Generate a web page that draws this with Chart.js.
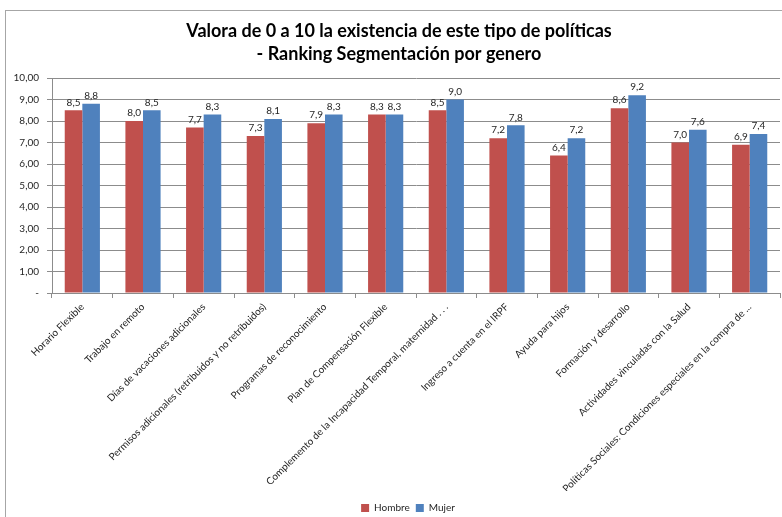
<!DOCTYPE html>
<html>
<head>
<meta charset="utf-8">
<title>Ranking Segmentación por genero</title>
<script src="https://cdn.jsdelivr.net/npm/chart.js@4.4.1/dist/chart.umd.min.js"></script>
<style>
  html, body { margin: 0; padding: 0; background: #fff; }
  canvas { display: block; }
</style>
</head>
<body>
<canvas id="rankingChart" width="782" height="517"></canvas>
<script>
const categories = [
  'Horario Flexible',
  'Trabajo en remoto',
  'Días de vacaciones adicionales',
  'Permisos adicionales (retribuidos y no retribuidos)',
  'Programas de reconocimiento',
  'Plan de Compensación Flexible',
  'Complemento de la Incapacidad Temporal, maternidad . . .',
  'Ingreso a cuenta en el IRPF',
  'Ayuda para hijos',
  'Formación y desarrollo',
  'Actividades vinculadas con la Salud',
  'Políticas Sociales: Condiciones especiales en la compra de ...'
];
const hombre = [8.5, 8.0, 7.7, 7.3, 7.9, 8.3, 8.5, 7.2, 6.4, 8.6, 7.0, 6.9];
const mujer = [8.8, 8.5, 8.3, 8.1, 8.3, 8.3, 9.0, 7.8, 7.2, 9.2, 7.6, 7.4];
const yTicks = [0, 1, 2, 3, 4, 5, 6, 7, 8, 9, 10];

const FONT = "Lato, 'Open Sans', sans-serif";
const fmt = (v, d) => v.toFixed(d).replace('.', ',');

// outer frame like a spreadsheet chart object
const framePlugin = {
  id: 'frame',
  beforeDraw(chart) {
    const ctx = chart.ctx;
    ctx.save();
    ctx.strokeStyle = '#a6a6a6';
    ctx.lineWidth = 1;
    ctx.strokeRect(5.5, 10.5, 820, 560);
    ctx.restore();
  },
  afterLayout(chart) {
    // the frame runs past the right edge, so title and legend sit right of centre
    const t = chart.titleBlock;
    if (t) { t.left += 9; t.right += 9; }
    const lg = chart.legend;
    if (lg) { lg.left += 18; lg.right += 18; lg.top += 6; lg.bottom += 6; }
  }
};

// value labels above each bar
const valueLabels = {
  id: 'valueLabels',
  afterDatasetsDraw(chart) {
    const ctx = chart.ctx;
    ctx.save();
    ctx.font = '10px ' + FONT;
    ctx.fillStyle = '#262626';
    ctx.textAlign = 'center';
    ctx.textBaseline = 'bottom';
    chart.data.datasets.forEach((ds, i) => {
      chart.getDatasetMeta(i).data.forEach((bar, j) => {
        ctx.fillText(fmt(ds.data[j], 1), bar.x, bar.y - 3);
      });
    });
    ctx.restore();
  }
};

new Chart(document.getElementById('rankingChart'), {
  type: 'bar',
  data: {
    labels: categories,
    datasets: [
      { label: 'Hombre', data: hombre, backgroundColor: '#c0504d' },
      { label: 'Mujer', data: mujer, backgroundColor: '#4f81bd' }
    ]
  },
  options: {
    responsive: false,
    animation: false,
    devicePixelRatio: 1,
    categoryPercentage: 0.58,
    barPercentage: 1.0,
    layout: { padding: { left: 0, right: 2, top: 12, bottom: 0 } },
    plugins: {
      title: {
        display: true,
        text: ['Valora de 0 a 10 la existencia de este tipo de políticas', '- Ranking Segmentación por genero'],
        color: '#000',
        font: { family: FONT, size: 18, weight: 'bold', lineHeight: 1.28 },
        padding: { top: 8, bottom: 12 }
      },
      legend: {
        position: 'bottom',
        labels: {
          boxWidth: 8,
          boxHeight: 8,
          padding: 6,
          color: '#262626',
          font: { family: FONT, size: 10 }
        }
      },
      tooltip: { enabled: false }
    },
    scales: {
      x: {
        grid: { offset: true, drawOnChartArea: false, drawTicks: true, tickLength: 5, color: '#8c8c8c' },
        border: { color: '#8c8c8c' },
        ticks: {
          autoSkip: false,
          maxRotation: 45,
          minRotation: 45,
          color: '#262626',
          font: { family: FONT, size: 10 }
        },
        afterFit(scale) { scale.height = 198; }
      },
      y: {
        min: 0,
        max: 10,
        afterBuildTicks(scale) { scale.ticks = yTicks.map(v => ({ value: v })); },
        grid: { color: '#8c8c8c', tickLength: 5 },
        border: { color: '#8c8c8c' },
        ticks: {
          padding: 8,
          color: '#262626',
          font: { family: FONT, size: 10 },
          callback: v => v === 0 ? '-' : fmt(v, 2)
        },
        afterFit(scale) { scale.width = 52; }
      }
    }
  },
  plugins: [framePlugin, valueLabels]
});
</script>
</body>
</html>
